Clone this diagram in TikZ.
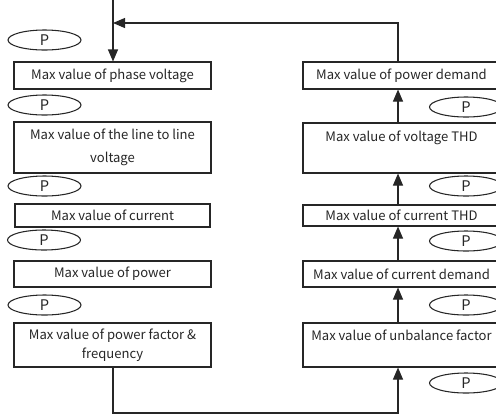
\documentclass[tikz,border=0pt]{standalone}
\usepackage{fontspec}
\setmainfont{Noto Sans CJK SC}
\usetikzlibrary{arrows.meta,shapes.geometric}
\begin{document}
\begin{tikzpicture}[x=0.75pt,y=-0.75pt,
  every node/.style={text=black!85},
  box/.style={draw=black!85, line width=0.8pt, rectangle, inner sep=0pt,
    minimum width=147.75pt, align=center, font=\fontsize{9.8pt}{13pt}\selectfont},
  pill/.style={draw=black!85, line width=0.8pt, ellipse, inner sep=0pt,
    minimum width=54.75pt, minimum height=15pt, font=\fontsize{11pt}{13pt}\selectfont},
  link/.style={draw=black!85, line width=0.8pt},
  arr/.style={link, -{Triangle[length=9pt,width=7.5pt]}}]
\useasboundingbox (0,0) rectangle (496,415);
\clip (0,0) rectangle (496,415);

% left column, read downwards
\node[box, minimum height=20.25pt] (b1) at (112.5,75.5) {Max value of phase voltage};
\node[box, minimum height=38.25pt, font=\fontsize{9.8pt}{17pt}\selectfont] (b2) at (112.5,147.5) {Max value of the line to line\\voltage};
\node[box, minimum width=146.25pt, minimum height=17.25pt] (b3) at (112.5,215.5) {Max value of current};
\node[box, minimum height=19.5pt] (b4) at (112.5,274) {Max value of power};
\node[box, minimum height=33pt, font=\fontsize{9.8pt}{14pt}\selectfont] (b5) at (112.5,345) {Max value of power factor \&\\frequency};

\node[pill] (p1) at (44.5,40) {P};
\node[pill] (p2) at (44.5,105) {P};
\node[pill] (p3) at (44.5,186) {P};
\node[pill] (p4) at (44,240) {P};
\node[pill] (p5) at (44.5,305) {P};

% right column, read upwards
\node[box, minimum height=20.25pt] (r1) at (401.5,75.5) {Max value of power demand};
\node[box, minimum height=37.5pt, font=\fontsize{9.8pt}{17pt}\selectfont] (r2) at (401.5,148) {Max value of voltage THD\\\mbox{}};
\node[box, minimum height=15.75pt] (r3) at (401.5,215.5) {Max value of current THD};
\node[box, minimum height=19.5pt] (r4) at (401.5,274) {Max value of current demand};
\node[box, minimum height=33pt, font=\fontsize{9.8pt}{14pt}\selectfont] (r5) at (401.5,345) {Max value of unbalance factor\\\mbox{}};

\node[pill] (q1) at (466,107) {P};
\node[pill] (q2) at (466,186) {P};
\node[pill] (q3) at (466,241) {P};
\node[pill] (q4) at (466,305) {P};
\node[pill] (q5) at (466,383) {P};

% connector routes
\coordinate (lx) at (113,0);
\coordinate (rx) at (398,0);
\coordinate (jn) at (113,23);
\coordinate (bt) at (113,413);

\draw[arr] (lx) -- (b1.north -| lx);
\draw[arr] (rx |- r1.north) |- (jn);
\draw[arr] (rx |- r2.north) -- (rx |- r1.south);
\draw[arr] (rx |- r3.north) -- (rx |- r2.south);
\draw[arr] (rx |- r4.north) -- (rx |- r3.south);
\draw[arr] (rx |- r5.north) -- (rx |- r4.south);
\draw[arr] (b5.south -| lx) -- (bt) -| (rx |- r5.south);
\end{tikzpicture}
\end{document}
